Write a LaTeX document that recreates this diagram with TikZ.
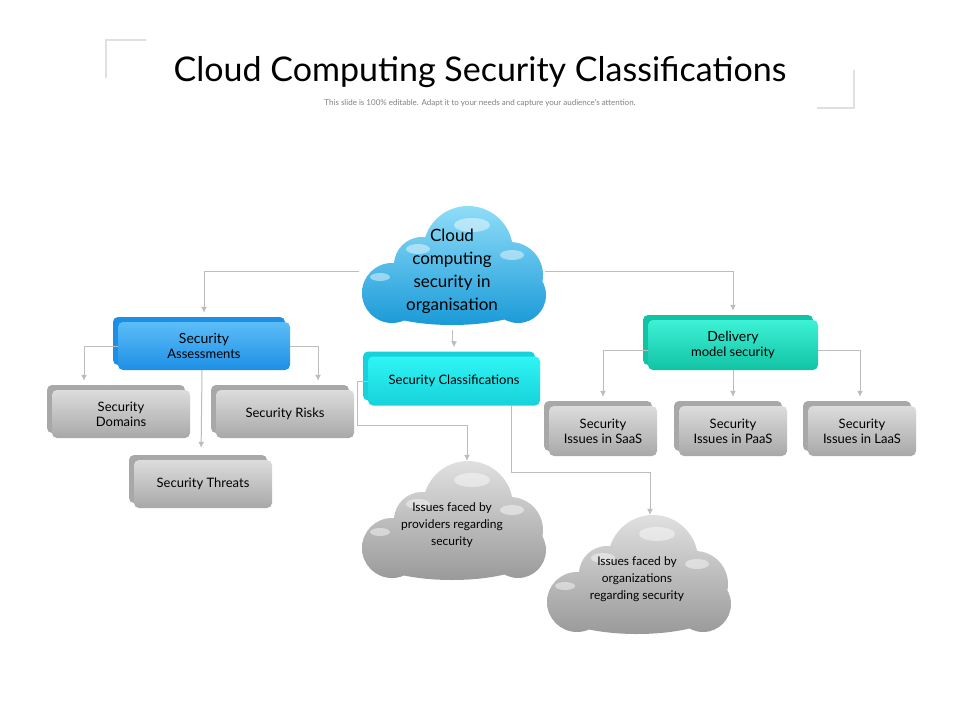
\documentclass[tikz,border=0pt]{standalone}
\usepackage{fontspec}
\setmainfont{Lato}
\usetikzlibrary{arrows.meta}
\definecolor{conn}{HTML}{BDBDBD}
\tikzset{
  conn/.style={draw=conn,line width=1pt,-{Latex[length=6pt,width=6pt]}},
  boxtext/.style={align=center,font=\fontsize{13}{15}\selectfont,text=black},
  cloudnode/.style={minimum width=185pt,minimum height=118pt,align=center,inner sep=0pt},
}
% name cx cy w h topcolor bottomcolor text
\newcommand{\mybox}[8]{%
  \fill[#7,rounded corners=5pt] ({#2-#4/2-5},{#3-#5/2-5}) rectangle ({#2+#4/2-5},{#3+#5/2-5});
  \node[boxtext,minimum width=#4pt,minimum height=#5pt,rounded corners=5pt,top color=#6,bottom color=#7,inner sep=0pt] (#1) at (#2,#3) {#8};
}
\newcommand{\mycloud}[4]{% x y topcolor bottomcolor (top-left)
  \begin{scope}[shift={(#1,#2)}]
  \shade[top color=#3,bottom color=#4]
    (108,46) circle (45) (62,60) circle (28) (150,70) circle (33)
    (32,88) circle (30) (158,90) circle (28) (92,92) ellipse (88 and 28);
  \fill[white,opacity=0.45] (112,20) ellipse (18 and 7) (58,44) ellipse (12 and 5) (152,50) ellipse (12 and 5) (20,72) ellipse (10 and 4);
  \end{scope}}
\definecolor{bluet}{HTML}{5CBDF7}\definecolor{blueb}{HTML}{1E8FE6}
\definecolor{cyant}{HTML}{2FF5F5}\definecolor{cyanb}{HTML}{16D2DA}
\definecolor{tealt}{HTML}{3DF2D6}\definecolor{tealb}{HTML}{12C2A4}
\definecolor{grayt}{HTML}{DCDCDC}\definecolor{grayb}{HTML}{A8A8A8}
\definecolor{cloudt}{HTML}{8FDDF8}\definecolor{cloudb}{HTML}{1A9AD8}
\definecolor{gcloudt}{HTML}{E0E0E0}\definecolor{gcloudb}{HTML}{9A9A9A}
\begin{document}
\begin{tikzpicture}[x=1pt,y=-1pt]
\useasboundingbox (0,0) rectangle (960,720);
\fill[white] (0,0) rectangle (960,720);
% title
\draw[draw=black!12,line width=2pt] (146,40) -- (106,40) -- (106,78);
\draw[draw=black!12,line width=2pt] (817,108) -- (854,108) -- (854,70);
\node[font=\fontsize{34}{40}\selectfont] (title) at (480,72) {Cloud Computing Security Classifications};
\node[font=\fontsize{8}{10}\selectfont,text=black!50] (sub) at (480,103) {This slide is 100\% editable. Adapt it to your needs and capture your audience's attention.};
% clouds
\mycloud{360}{205}{cloudt}{cloudb}
\mycloud{360}{460}{gcloudt}{gcloudb}
\mycloud{545}{514}{gcloudt}{gcloudb}
\node[cloudnode,font=\fontsize{17}{23}\selectfont] (main) at (452,271) {\begin{tabular}{c}Cloud\\computing\\security in\\organisation\end{tabular}};
\node[cloudnode,font=\fontsize{12}{17}\selectfont] (prov) at (452,525) {Issues faced by\\providers regarding\\security};
\node[cloudnode,font=\fontsize{12}{17}\selectfont] (orgs) at (637,579) {Issues faced by\\organizations\\regarding security};
% boxes
\mybox{sa}{204}{346}{172}{48}{bluet}{blueb}{\fontsize{14}{20}\selectfont Security\\Assessments}
\mybox{sc}{454}{381}{172}{49}{cyant}{cyanb}{Security Classifications}
\mybox{dm}{733}{345}{170}{50}{tealt}{tealb}{\fontsize{14}{20}\selectfont Delivery\\model security}
\mybox{dom}{121}{414}{138}{48}{grayt}{grayb}{Security\\Domains}
\mybox{risk}{285}{414}{138}{48}{grayt}{grayb}{Security Risks}
\mybox{thr}{203}{484}{138}{48}{grayt}{grayb}{Security Threats}
\mybox{saas}{603}{431}{108}{50}{grayt}{grayb}{Security\\Issues in SaaS}
\mybox{paas}{733}{431}{108}{50}{grayt}{grayb}{Security\\Issues in PaaS}
\mybox{laas}{862}{431}{108}{50}{grayt}{grayb}{Security\\Issues in LaaS}
% connectors
\draw[conn,shorten >=9pt] (main.west) -| (sa.north);
\draw[conn,shorten >=9pt] (main.east) -| (dm.north);
\draw[conn,shorten >=9pt] (main.south) |- ++(0,11) -| (sc.north);
\draw[conn,shorten >=9pt] (sa.west) -| ([xshift=-37pt]dom.north);
\draw[conn,shorten >=9pt] (sa.east) -| ([xshift=33pt]risk.north);
\draw[conn,shorten >=12pt] ([xshift=-2pt]sa.south) -- ([xshift=-2pt]thr.north);
\draw[conn,shorten >=9pt] ([yshift=-5pt]dm.west) -| (saas.north);
\draw[conn,shorten >=9pt] (dm.south) -- (paas.north);
\draw[conn,shorten >=9pt] ([yshift=-5pt]dm.east) -| ([xshift=-2pt]laas.north);
\draw[conn,shorten >=5pt] (sc.west) -- ++(-10,0) |- ++(0,44) -| ([xshift=15pt]prov.north);
\draw[conn,shorten >=5pt] ([xshift=57pt]sc.south) |- ++(0,67) -| ([xshift=13pt]orgs.north);
\end{tikzpicture}
\end{document}
